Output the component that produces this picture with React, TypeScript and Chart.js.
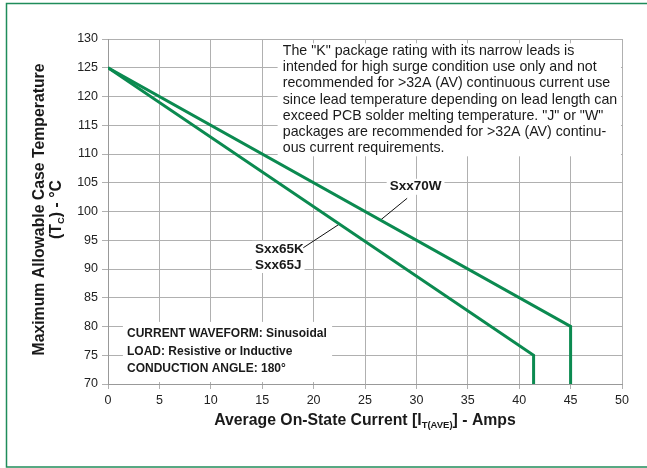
import React, { useEffect, useRef } from "react";
import { Chart, registerables } from "chart.js";

Chart.register(...registerables);

// ---- Data ----
const sxx70wCurrent = [0, 45, 45];
const sxx70wTemp = [125, 80, 70];
const sxx65Current = [0, 41.4, 41.4];
const sxx65Temp = [125, 75, 70];

const xMin = 0;
const xMax = 50;
const xStep = 5;
const yMin = 70;
const yMax = 130;
const yStep = 5;

const noteLines = [
  'The "K" package rating with its narrow leads is',
  "intended for high surge condition use only and not",
  "recommended for >32A (AV) continuous current use",
  "since lead temperature depending on lead length can",
  'exceed PCB solder melting temperature. "J" or "W"',
  "packages are recommended for >32A (AV) continu-",
  "ous current requirements.",
];

const conditionLines = [
  "CURRENT WAVEFORM: Sinusoidal",
  "LOAD: Resistive or Inductive",
  "CONDUCTION ANGLE: 180\u00b0",
];

const labelSxx70W = "Sxx70W";
const labelSxx65K = "Sxx65K";
const labelSxx65J = "Sxx65J";

const yTitleLine1 = "Maximum Allowable Case Temperature";
const xTitleParts = ["Average On-State Current [I", "T(AVE)", "] - Amps"];
const yTitleParts = ["(T", "C", ") - \u00b0C"];

const GREEN = "#0b8a50";
const FONT = "'Liberation Sans', Arial, Helvetica, sans-serif";
const TITLE_SIZE = 15.8;

function drawSubText(
  ctx: CanvasRenderingContext2D,
  parts: string[],
  cx: number,
  cy: number,
  mainSize: number,
  subSize: number
) {
  const mainFont = `bold ${mainSize}px ${FONT}`;
  const subFont = `bold ${subSize}px ${FONT}`;
  ctx.font = mainFont;
  const w0 = ctx.measureText(parts[0]).width;
  const w2 = ctx.measureText(parts[2]).width;
  ctx.font = subFont;
  const w1 = ctx.measureText(parts[1]).width;
  const total = w0 + w1 + w2;
  let x = cx - total / 2;
  ctx.textAlign = "left";
  ctx.textBaseline = "middle";
  ctx.font = mainFont;
  ctx.fillText(parts[0], x, cy);
  x += w0;
  ctx.font = subFont;
  ctx.fillText(parts[1], x, cy + 4.5);
  x += w1;
  ctx.font = mainFont;
  ctx.fillText(parts[2], x, cy);
}

const decorPlugin = {
  id: "decor",
  beforeDraw(chart: any) {
    const ctx = chart.ctx as CanvasRenderingContext2D;
    ctx.save();
    ctx.fillStyle = "#ffffff";
    ctx.fillRect(0, 0, chart.width, chart.height);
    ctx.strokeStyle = "#1f8c5a";
    ctx.lineWidth = 1.5;
    ctx.strokeRect(6.5, 3.5, chart.width + 20, chart.height - 3.5 - 1);
    ctx.restore();
  },
  beforeDatasetsDraw(chart: any) {
    const ctx = chart.ctx as CanvasRenderingContext2D;
    const xs = chart.scales.x;
    const ys = chart.scales.y;
    const px = (v: number) => xs.getPixelForValue(v);
    const py = (v: number) => ys.getPixelForValue(v);
    ctx.save();

    // note box
    ctx.fillStyle = "#ffffff";
    const nx0 = px(16.5);
    const nx1 = px(49.9);
    const ny0 = py(129.25);
    const ny1 = py(109.6);
    ctx.fillRect(nx0, ny0, nx1 - nx0, ny1 - ny0);

    // condition box
    const cx0 = px(1.45);
    const cx1 = px(21.8);
    const cy0 = py(80.8);
    const cy1 = py(70.35);
    ctx.fillRect(cx0, cy0, cx1 - cx0, cy1 - cy0);

    // note text
    ctx.fillStyle = "#1a1a1a";
    ctx.font = `14.2px ${FONT}`;
    ctx.textAlign = "left";
    ctx.textBaseline = "middle";
    const noteX = px(17.0);
    const noteY = py(127.9);
    noteLines.forEach((t, i) => ctx.fillText(t, noteX, noteY + i * 16.2));

    // condition text
    ctx.font = `bold 12px ${FONT}`;
    const condX = px(1.85);
    const condY = py(78.75);
    conditionLines.forEach((t, i) => ctx.fillText(t, condX, condY + i * 17.5));

    // labels with white backgrounds
    const labels: [string, number, number][] = [
      [labelSxx70W, 27.4, 104.3],
      [labelSxx65K, 14.3, 93.5],
      [labelSxx65J, 14.3, 90.7],
    ];
    ctx.font = `bold 13.5px ${FONT}`;
    labels.forEach(([t, lx, ly]) => {
      const x = px(lx);
      const y = py(ly);
      const w = ctx.measureText(t).width;
      ctx.fillStyle = "#ffffff";
      ctx.fillRect(x - 3, y - 8, w + 6, 16);
      ctx.fillStyle = "#1a1a1a";
      ctx.fillText(t, x, y);
    });

    // leader lines
    ctx.strokeStyle = "#111111";
    ctx.lineWidth = 1;
    ctx.beginPath();
    ctx.moveTo(px(29.1), py(102.3));
    ctx.lineTo(px(26.5), py(98.5));
    ctx.moveTo(px(19.0), py(93.7));
    ctx.lineTo(px(22.5), py(97.8));
    ctx.stroke();
    ctx.restore();
  },
  afterDraw(chart: any) {
    const ctx = chart.ctx as CanvasRenderingContext2D;
    const area = chart.chartArea;
    const midY = (area.top + area.bottom) / 2 - 2;
    ctx.save();
    ctx.fillStyle = "#1a1a1a";
    // x title
    drawSubText(ctx, xTitleParts, (area.left + area.right) / 2, 421, TITLE_SIZE, 9.5);
    // y title
    ctx.translate(40, midY);
    ctx.rotate(-Math.PI / 2);
    ctx.font = `bold ${TITLE_SIZE}px ${FONT}`;
    ctx.textAlign = "center";
    ctx.textBaseline = "middle";
    ctx.fillText(yTitleLine1, 0, 0);
    ctx.restore();
    ctx.save();
    ctx.fillStyle = "#1a1a1a";
    ctx.translate(57, midY);
    ctx.rotate(-Math.PI / 2);
    drawSubText(ctx, yTitleParts, 0, 0, TITLE_SIZE, 9.5);
    ctx.restore();
  },
};

export default function App() {
  const canvasRef = useRef<HTMLCanvasElement | null>(null);

  useEffect(() => {
    if (!canvasRef.current) return;
    const toPoints = (xs: number[], ys: number[]) =>
      xs.map((x, i) => ({ x, y: ys[i] }));
    const chart = new Chart(canvasRef.current, {
      type: "scatter",
      data: {
        datasets: [
          {
            label: labelSxx70W,
            data: toPoints(sxx70wCurrent, sxx70wTemp),
            showLine: true,
            borderColor: GREEN,
            backgroundColor: GREEN,
            borderWidth: 3,
            pointRadius: 0,
            tension: 0,
          },
          {
            label: labelSxx65K,
            data: toPoints(sxx65Current, sxx65Temp),
            showLine: true,
            borderColor: GREEN,
            backgroundColor: GREEN,
            borderWidth: 3,
            pointRadius: 0,
            tension: 0,
          },
        ],
      },
      options: {
        animation: false,
        responsive: true,
        maintainAspectRatio: false,
        layout: { padding: { left: 0, right: 25, top: 39, bottom: 0 } },
        plugins: {
          legend: { display: false },
          tooltip: { enabled: false },
        },
        scales: {
          x: {
            type: "linear",
            min: xMin,
            max: xMax,
            ticks: {
              stepSize: xStep,
              color: "#222222",
              font: { family: FONT, size: 12.5 },
              padding: 4,
            },
            grid: { color: "#b0b0b0", lineWidth: 1, tickLength: 5 },
            border: { color: "#999999", width: 1 },
            afterFit: (s: any) => {
              s.height = 84;
            },
          },
          y: {
            type: "linear",
            min: yMin,
            max: yMax,
            ticks: {
              stepSize: yStep,
              color: "#222222",
              font: { family: FONT, size: 12.5 },
              padding: 4,
            },
            grid: { color: "#b0b0b0", lineWidth: 1, tickLength: 6 },
            border: { color: "#999999", width: 1 },
            afterFit: (s: any) => {
              s.width = 108;
            },
          },
        },
      },
      plugins: [decorPlugin],
    });
    return () => chart.destroy();
  }, []);

  return (
    <div style={{ position: "absolute", left: 0, top: 0, width: 647, height: 468 }}>
      <canvas ref={canvasRef} />
    </div>
  );
}
